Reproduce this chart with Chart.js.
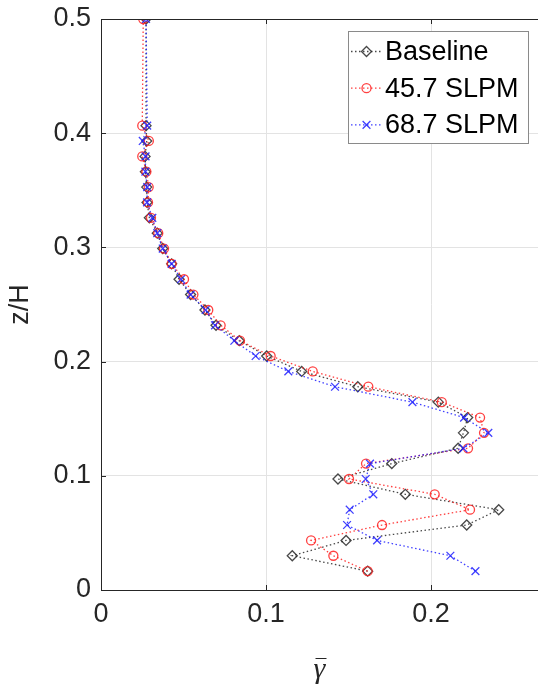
<!DOCTYPE html>
<html>
<head>
<meta charset="UTF-8">
<title>z/H profile</title>
<script src="https://cdn.jsdelivr.net/npm/chart.js"></script>
<style>
  body { margin: 0; background: #fff; }
  canvas { display: block; }
</style>
</head>
<body>
<canvas id="profileChart" width="538" height="690"></canvas>
<script>
  // z/H positions (shared by all three runs)
  const zLevels = [0.0165, 0.030, 0.0434, 0.0569, 0.0703, 0.0838, 0.0972, 0.1107, 0.1241, 0.1376,
    0.151, 0.1645, 0.178, 0.1914, 0.2049, 0.2183, 0.2318, 0.2452, 0.2587, 0.2721,
    0.2856, 0.299, 0.3125, 0.3259, 0.3394, 0.3528, 0.3663, 0.3797, 0.3932, 0.4066, 0.5];

  const baseline = [0.1616, 0.1159, 0.1485, 0.2216, 0.241, 0.1844, 0.1436, 0.1762, 0.2164, 0.2196,
    0.2222, 0.2044, 0.1556, 0.1216, 0.1004, 0.0838, 0.0697, 0.063, 0.0543, 0.0473,
    0.0428, 0.0374, 0.0341, 0.0293, 0.0279, 0.0277, 0.0269, 0.0267, 0.0277, 0.0273, 0.0273];
  const slpm457 = [0.1616, 0.1408, 0.1273, 0.1703, 0.2236, 0.2022, 0.1503, 0.1606, 0.2224, 0.2321,
    0.2297, 0.2065, 0.162, 0.1283, 0.1028, 0.0842, 0.0725, 0.065, 0.056, 0.0503,
    0.0428, 0.0382, 0.0347, 0.0303, 0.0285, 0.0289, 0.0275, 0.025, 0.029, 0.025, 0.0256];
  const slpm687 = [0.2269, 0.2117, 0.1673, 0.1491, 0.1507, 0.165, 0.1604, 0.163, 0.2196, 0.2347,
    0.22, 0.1887, 0.1418, 0.1135, 0.0937, 0.0808, 0.0691, 0.0634, 0.0543, 0.0485,
    0.0428, 0.0374, 0.0341, 0.0311, 0.0279, 0.028, 0.0269, 0.027, 0.0253, 0.028, 0.0273];

  const seriesLabels = ['Baseline', '45.7 SLPM', '68.7 SLPM'];
  const xTicks = [0, 0.1, 0.2];
  const yTicks = [0, 0.1, 0.2, 0.3, 0.4, 0.5];

  const axisColor = '#262626';
  const font = '"Liberation Sans", Arial, sans-serif';

  function pts(xs) {
    return xs.map((v, i) => ({ x: v, y: zLevels[i] }));
  }

  const styles = [
    { color: 'rgba(40,40,40,0.85)', point: 'rectRot', radius: 5 },
    { color: 'rgba(255,30,30,0.85)', point: 'circle', radius: 4.5 },
    { color: 'rgba(30,30,255,0.85)', point: 'crossRot', radius: 5.5 }
  ];

  const datasets = [baseline, slpm457, slpm687].map((xs, i) => ({
    label: seriesLabels[i],
    data: pts(xs),
    showLine: true,
    borderColor: styles[i].color,
    borderWidth: 1.3,
    borderDash: [1.5, 2.5],
    pointStyle: styles[i].point,
    pointRadius: styles[i].radius,
    pointBorderColor: styles[i].color,
    pointBackgroundColor: 'rgba(0,0,0,0)',
    pointBorderWidth: 1.3,
    order: 3 - i
  }));

  // MATLAB style box, inward ticks, macron over the x label and legend
  const framePlugin = {
    id: 'frame',
    afterDraw(chart) {
      const ctx = chart.ctx;
      const a = chart.chartArea;
      const xs = chart.scales.x, ys = chart.scales.y;
      ctx.save();
      ctx.strokeStyle = axisColor;
      ctx.lineWidth = 1;
      ctx.beginPath();
      ctx.moveTo(a.left, a.top + 0.5);
      ctx.lineTo(a.right, a.top + 0.5);
      xTicks.forEach(v => {
        const px = Math.round(xs.getPixelForValue(v)) + 0.5;
        ctx.moveTo(px, a.bottom); ctx.lineTo(px, a.bottom - 5);
        ctx.moveTo(px, a.top); ctx.lineTo(px, a.top + 5);
      });
      yTicks.forEach(v => {
        const py = Math.round(ys.getPixelForValue(v)) + 0.5;
        ctx.moveTo(a.left, py); ctx.lineTo(a.left + 5, py);
      });
      // bar over gamma
      const cx = (a.left + a.right) / 2;
      ctx.moveTo(cx - 4, 658.5); ctx.lineTo(cx + 7, 658.5);
      ctx.stroke();

      // legend box
      const bx = 348.5, by = 31.5, bw = 180, bh = 112;
      ctx.fillStyle = '#fff';
      ctx.fillRect(bx, by, bw, bh);
      ctx.strokeStyle = '#8a8a8a';
      ctx.strokeRect(bx, by, bw, bh);
      ctx.font = '27px ' + font;
      ctx.textBaseline = 'middle';
      ctx.textAlign = 'left';
      chart.data.datasets.forEach((ds, i) => {
        const cy = 51.5 + i * 36.7;
        ctx.strokeStyle = ds.borderColor;
        ctx.lineWidth = 1.3;
        ctx.setLineDash([1.5, 2.5]);
        ctx.beginPath();
        ctx.moveTo(351, cy); ctx.lineTo(381, cy);
        ctx.stroke();
        ctx.setLineDash([]);
        ctx.fillStyle = 'rgba(0,0,0,0)';
        Chart.helpers.drawPoint(ctx, {
          pointStyle: ds.pointStyle, radius: ds.pointRadius, borderWidth: 1.3
        }, 366.5, cy);
        ctx.fillStyle = '#000';
        ctx.fillText(ds.label, 385, cy + 1);
      });
      ctx.restore();
    }
  };

  new Chart(document.getElementById('profileChart'), {
    type: 'scatter',
    data: { datasets: datasets },
    options: {
      responsive: false,
      animation: false,
      layout: { autoPadding: false, padding: { top: 19, right: 0, left: 0, bottom: 0 } },
      plugins: {
        legend: { display: false },
        tooltip: { enabled: false }
      },
      scales: {
        x: {
          type: 'linear',
          min: 0,
          max: 0.2648,
          afterBuildTicks: s => { s.ticks = xTicks.map(v => ({ value: v })); },
          afterFit: s => { s.height = 100; s.paddingLeft = 0; s.paddingRight = 0; },
          ticks: {
            color: axisColor,
            font: { size: 27, family: font },
            padding: 8,
            maxRotation: 0,
            callback: v => String(v)
          },
          grid: { color: '#e3e3e3', drawTicks: false },
          border: { color: axisColor, width: 1 },
          title: {
            display: true,
            text: 'γ',
            color: axisColor,
            font: { size: 30, family: '"Liberation Serif", serif', style: 'italic' },
            padding: { top: 0, bottom: 2 }
          }
        },
        y: {
          type: 'linear',
          min: 0,
          max: 0.5,
          afterBuildTicks: s => { s.ticks = yTicks.map(v => ({ value: v })); },
          afterFit: s => { s.width = 101; s.paddingTop = 0; s.paddingBottom = 0; },
          ticks: {
            color: axisColor,
            font: { size: 27, family: font },
            padding: 10,
            callback: v => String(v)
          },
          grid: { color: '#e3e3e3', drawTicks: false },
          border: { color: axisColor, width: 1 },
          title: {
            display: true,
            text: 'z/H',
            color: axisColor,
            font: { size: 27, family: font },
            padding: { top: 4, bottom: 0 }
          }
        }
      }
    },
    plugins: [framePlugin]
  });
</script>
</body>
</html>
